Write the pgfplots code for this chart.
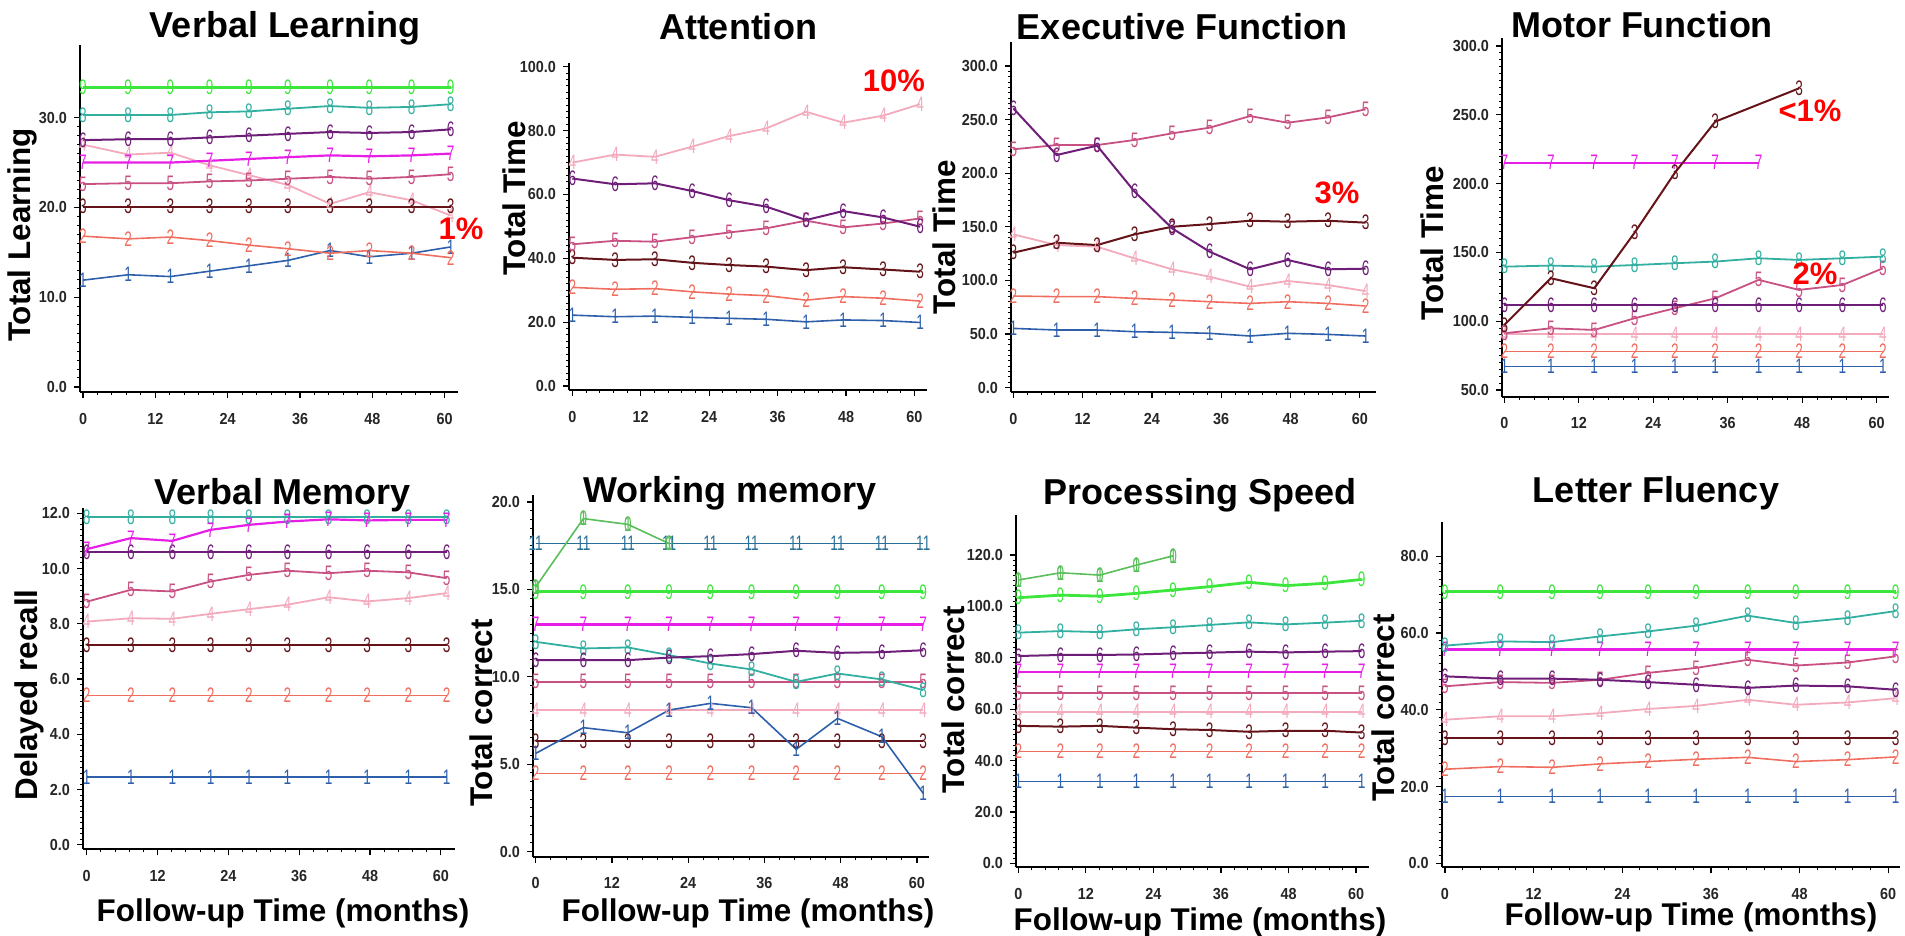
\documentclass[border=0pt]{standalone}
\usepackage{fontspec}
\setmainfont{Liberation Sans}
\newfontfamily\markfont[FakeStretch=0.65]{Liberation Sans}
\newfontfamily\tickfont[FakeStretch=0.9]{Liberation Sans}
\usepackage{pgfplots}
\usepackage{pgfplotstable}
\pgfplotsset{compat=1.18}

\definecolor{c1}{RGB}{45,95,170}
\definecolor{c2}{RGB}{240,110,95}
\definecolor{c3}{RGB}{100,20,25}
\definecolor{c4}{RGB}{242,170,188}
\definecolor{c5}{RGB}{200,80,130}
\definecolor{c6}{RGB}{110,30,120}
\definecolor{c7}{RGB}{230,30,230}
\definecolor{c8}{RGB}{50,175,160}
\definecolor{c9}{RGB}{60,230,60}
\definecolor{c10}{RGB}{90,190,90}
\definecolor{c11}{RGB}{40,110,150}
\definecolor{pctred}{RGB}{255,0,0}

\pgfplotsset{
  panel/.style={
    scale only axis, anchor=south west,
    axis lines*=left, axis line style={line width=1pt,-},
    tick align=outside, major tick length=3pt, minor tick length=1.5pt,
    every tick/.style={black, line width=0.6pt},
    every minor tick/.style={black, line width=0.5pt},
    xtick={0,12,24,36,48,60}, minor x tick num=4, minor y tick num=9,
    /pgf/number format/assume math mode=true,
    ticklabel style={font=\tickfont\bfseries\fontsize{8}{9}\selectfont, text=black!85},
    yticklabel style={/pgf/number format/fixed, /pgf/number format/fixed zerofill, /pgf/number format/precision=1},
    xticklabel style={yshift=-4pt},
    clip=false,
  },
  gl/.style n args={3}{color=#1, line width=#3, mark=text, text mark={#2}, text mark as node=true,
     text mark style={font=\markfont\fontsize{10.5}{10.5}\selectfont, text=#1, inner sep=0pt}},
  g1/.style={gl={c1}{1}{0.8pt}},
  g2/.style={gl={c2}{2}{0.8pt}},
  g3/.style={gl={c3}{3}{1pt}},
  g4/.style={gl={c4}{4}{0.9pt}},
  g5/.style={gl={c5}{5}{0.9pt}},
  g6/.style={gl={c6}{6}{1pt}},
  g7/.style={gl={c7}{7}{1.1pt}},
  g8/.style={gl={c8}{8}{0.9pt}},
  g9/.style={gl={c9}{9}{1.4pt}},
  g10/.style={gl={c10}{\makebox[0pt]{1}\makebox[0pt]{0}}{0.8pt}},
  g11/.style={gl={c11}{11}{0.8pt}},
}

% Verbal Learning
\pgfplotstableread{
t g1 g2 g3 g4 g5 g6 g7 g8 g9
0 11.9 16.8 20.1 27.0 22.6 27.5 25.0 30.3 33.4
7.5 12.5 16.5 20.1 25.9 22.7 27.6 25.0 30.3 33.4
14.5 12.3 16.7 20.1 26.1 22.7 27.6 25.0 30.3 33.4
21 12.9 16.3 20.1 24.7 22.9 27.8 25.2 30.6 33.4
27.5 13.5 15.8 20.1 23.6 23.0 28.0 25.4 30.7 33.4
34 14.1 15.4 20.1 22.5 23.2 28.2 25.6 31.0 33.4
41 15.2 14.9 20.1 20.4 23.4 28.4 25.8 31.3 33.4
47.5 14.5 15.2 20.1 21.7 23.2 28.3 25.7 31.1 33.4
54.5 14.9 14.9 20.1 20.8 23.4 28.4 25.8 31.2 33.4
61 15.6 14.4 20.1 19.1 23.7 28.7 26.0 31.5 33.4
}\VL
% Attention
\pgfplotstableread{
t g1 g2 g3 g4 g5 g6
0 22.2 30.9 40.2 70.0 44.4 65.0
7.5 21.7 30.3 39.5 72.5 45.5 63.2
14.5 21.9 30.5 39.7 71.8 45.2 63.5
21 21.5 29.5 38.6 75.0 46.6 61.1
27.5 21.2 28.8 37.9 78.3 48.1 58.2
34 20.9 28.3 37.4 80.7 49.4 56.2
41 20.1 26.9 36.3 85.9 51.8 52.0
47.5 20.7 28.0 37.2 82.5 49.7 54.8
54.5 20.5 27.5 36.5 84.7 50.9 52.8
61 19.9 26.6 35.8 88.3 52.5 49.9
}\AT
% Executive Function
\pgfplotstableread{
t g1 g2 g3 g4 g5 g6
0 55.3 85.5 125.9 143.0 222.3 260.5
7.5 53.8 84.9 135.2 133.0 226.3 217.0
14.5 53.8 84.9 133.0 131.5 226.3 225.7
21 52.2 83.3 143.0 120.6 231.0 182.8
27.5 51.6 81.8 150.1 110.4 237.2 148.6
34 50.7 80.2 152.6 103.5 242.5 126.8
41 48.2 78.6 155.7 94.2 253.3 110.4
47.5 50.7 80.2 154.8 99.5 247.1 119.1
54.5 49.7 78.6 155.7 95.7 252.1 110.4
61 48.2 76.2 153.9 90.1 259.6 111.0
}\EF
% Motor Function
\pgfplotstableread{
t g1 g2 g3 g4 g5 g6 g7 g8
0 67.0 77.9 97.2 90.5 91.2 111.8 215.2 139.6
7.5 67.0 77.9 131.2 90.5 94.8 111.8 215.2 140.4
14.5 67.0 77.9 123.9 90.5 93.6 111.8 215.2 139.6
21 67.0 77.9 164.3 90.5 102.1 111.8 215.2 140.8
27.5 67.0 77.9 207.9 90.5 109.4 111.8 215.2 142.1
34 67.0 77.9 245.0 90.5 116.6 111.8 215.2 143.3
41 67.0 77.9 nan 90.5 130.0 111.8 215.2 145.7
47.5 67.0 77.9 269.2 90.5 122.7 111.8 nan 144.5
54.5 67.0 77.9 nan 90.5 126.3 111.8 nan 145.7
61 67.0 77.9 nan 90.5 138.4 111.8 nan 146.9
}\MF
% Verbal Memory
\pgfplotstableread{
t g1 g2 g3 g4 g5 g6 g7 g8
0 2.45 5.4 7.24 8.08 8.80 10.6 10.70 11.85
7.5 2.45 5.4 7.24 8.20 9.23 10.6 11.10 11.85
14.5 2.45 5.4 7.24 8.18 9.17 10.6 11.00 11.85
21 2.45 5.4 7.24 8.36 9.53 10.6 11.40 11.85
27.5 2.45 5.4 7.24 8.53 9.77 10.6 11.58 11.85
34 2.45 5.4 7.24 8.69 9.92 10.6 11.70 11.85
41 2.45 5.4 7.24 8.96 9.83 10.6 11.78 11.85
47.5 2.45 5.4 7.24 8.81 9.92 10.6 11.74 11.85
54.5 2.45 5.4 7.24 8.93 9.86 10.6 11.76 11.85
61 2.45 5.4 7.24 9.11 9.65 10.6 11.76 11.85
}\VM
% Working memory
\pgfplotstableread{
t g1 g2 g3 g4 g5 g6 g7 g8 g9 g10 g11
0 5.62 4.48 6.32 8.1 9.71 10.95 12.99 12.00 14.86 15.14 17.62
7.5 7.09 4.48 6.32 8.1 9.71 10.95 12.99 11.62 14.86 19.05 17.62
14.5 6.80 4.48 6.32 8.1 9.71 10.95 12.99 11.68 14.86 18.72 17.62
21 8.10 4.48 6.32 8.1 9.71 11.10 12.99 11.24 14.86 17.62 17.62
27.5 8.48 4.48 6.32 8.1 9.71 11.18 12.99 10.76 14.86 nan 17.62
34 8.23 4.48 6.32 8.1 9.71 11.30 12.99 10.42 14.86 nan 17.62
41 5.85 4.48 6.32 8.1 9.71 11.49 12.99 9.71 14.86 nan 17.62
47.5 7.62 4.48 6.32 8.1 9.71 11.37 12.99 10.19 14.86 nan 17.62
54.5 6.57 4.48 6.32 8.1 9.71 11.41 12.99 9.85 14.86 nan 17.62
61 3.33 4.48 6.32 8.1 9.71 11.52 12.99 9.24 14.86 nan 17.62
}\WM
% Processing Speed
\pgfplotstableread{
t g1 g2 g3 g4 g5 g6 g7 g8 g9 g10
0 31.8 43.5 53.5 59.0 66.2 80.7 74.6 89.8 103.4 110.3
7.5 31.8 43.5 53.2 59.0 66.2 81.1 74.6 90.4 104.4 113.1
14.5 31.8 43.5 53.5 59.0 66.2 81.1 74.6 90.0 104.0 112.2
21 31.8 43.5 52.8 59.0 66.2 81.3 74.6 91.1 105.1 116.1
27.5 31.8 43.5 52.2 59.0 66.2 81.7 74.6 91.9 106.4 119.7
34 31.8 43.5 51.9 59.0 66.2 82.0 74.6 92.8 107.7 nan
41 31.8 43.5 51.2 59.0 66.2 82.4 74.6 93.8 109.4 nan
47.5 31.8 43.5 51.6 59.0 66.2 82.1 74.6 93.0 108.1 nan
54.5 31.8 43.5 51.6 59.0 66.2 82.4 74.6 93.7 109.0 nan
61 31.8 43.5 50.9 59.0 66.2 82.6 74.6 94.4 110.5 nan
}\PS
% Letter Fluency
\pgfplotstableread{
t g1 g2 g3 g4 g5 g6 g7 g8 g9
0 17.4 24.5 32.6 37.4 46.1 48.7 55.7 56.7 70.7
7.5 17.4 25.2 32.6 38.3 47.2 48.1 55.7 57.8 70.7
14.5 17.4 25.0 32.6 38.3 47.0 48.1 55.7 57.6 70.7
21 17.4 25.9 32.6 39.1 47.8 47.8 55.7 59.1 70.7
27.5 17.4 26.5 32.6 40.2 49.6 47.2 55.7 60.4 70.7
34 17.4 27.1 32.6 41.0 50.9 46.5 55.7 61.9 70.7
41 17.4 27.6 32.6 42.6 53.0 45.7 55.7 64.5 70.7
47.5 17.4 26.5 32.6 41.3 51.5 46.3 55.7 62.6 70.7
54.5 17.4 27.0 32.6 41.9 52.3 46.1 55.7 63.9 70.7
61 17.4 27.7 32.6 43.0 53.9 45.2 55.7 65.7 70.7
}\LF

\newcommand{\titlefont}{\bfseries\fontsize{18}{20}\selectfont}
\newcommand{\labfont}{\bfseries\fontsize{15.7}{18}\selectfont}
\newcommand{\pctfont}{\bfseries\fontsize{15.5}{18}\selectfont\color{pctred}}

\begin{document}
\begin{tikzpicture}
\useasboundingbox (0,0) rectangle (952.5pt,468pt);

% ---- Verbal Learning
\begin{axis}[panel, at={(40pt,272pt)}, width=189pt, height=173.5pt,
  xmin=-0.5, xmax=62.2, ymin=-0.56, ymax=38.1, ytick={0,10,20,30}]
\addplot[g4] table[x=t,y=g4]{\VL};
\addplot[g1] table[x=t,y=g1]{\VL};
\addplot[g2] table[x=t,y=g2]{\VL};
\addplot[g3] table[x=t,y=g3]{\VL};
\addplot[g5] table[x=t,y=g5]{\VL};
\addplot[g7] table[x=t,y=g7]{\VL};
\addplot[g6] table[x=t,y=g6]{\VL};
\addplot[g8] table[x=t,y=g8]{\VL};
\addplot[g9] table[x=t,y=g9]{\VL};
\end{axis}

% ---- Attention
\begin{axis}[panel, at={(284.5pt,273pt)}, width=179pt, height=163.5pt,
  xmin=-0.58, xmax=62.2, ymin=-1.25, ymax=101.2, ytick={0,20,40,60,80,100}]
\addplot[g4] table[x=t,y=g4]{\AT};
\addplot[g1] table[x=t,y=g1]{\AT};
\addplot[g2] table[x=t,y=g2]{\AT};
\addplot[g3] table[x=t,y=g3]{\AT};
\addplot[g5] table[x=t,y=g5]{\AT};
\addplot[g6] table[x=t,y=g6]{\AT};
\end{axis}

% ---- Executive Function
\begin{axis}[panel, at={(505.5pt,272pt)}, width=182.5pt, height=175pt,
  xmin=-0.4, xmax=62.8, ymin=-4, ymax=322.4, ytick={0,50,100,150,200,250,300}]
\addplot[g4] table[x=t,y=g4]{\EF};
\addplot[g1] table[x=t,y=g1]{\EF};
\addplot[g2] table[x=t,y=g2]{\EF};
\addplot[g3] table[x=t,y=g3]{\EF};
\addplot[g5] table[x=t,y=g5]{\EF};
\addplot[g6] table[x=t,y=g6]{\EF};
\end{axis}

% ---- Motor Function
\begin{axis}[panel, at={(751pt,269.65pt)}, width=193.5pt, height=179.35pt,
  xmin=-0.37, xmax=62.0, ymin=45.1, ymax=305.8, ytick={50,100,150,200,250,300}]
\addplot[g4] table[x=t,y=g4]{\MF};
\addplot[g1] table[x=t,y=g1]{\MF};
\addplot[g2] table[x=t,y=g2]{\MF};
\addplot[g5] table[x=t,y=g5]{\MF};
\addplot[g6] table[x=t,y=g6]{\MF};
\addplot[g8] table[x=t,y=g8]{\MF};
\addplot[g7] table[x=t,y=g7]{\MF};
\addplot[g3] table[x=t,y=g3]{\MF};
\end{axis}

% ---- Verbal Memory
\begin{axis}[panel, at={(41.5pt,43.35pt)}, width=186pt, height=170.65pt,
  xmin=-0.63, xmax=62.4, ymin=-0.16, ymax=12.19, ytick={0,2,4,6,8,10,12}]
\addplot[g4] table[x=t,y=g4]{\VM};
\addplot[g1] table[x=t,y=g1]{\VM};
\addplot[g2] table[x=t,y=g2]{\VM};
\addplot[g3] table[x=t,y=g3]{\VM};
\addplot[g5] table[x=t,y=g5]{\VM};
\addplot[g6] table[x=t,y=g6]{\VM};
\addplot[g8] table[x=t,y=g8]{\VM};
\addplot[g7] table[x=t,y=g7]{\VM};
\end{axis}

% ---- Working memory
\begin{axis}[panel, at={(266.5pt,39.65pt)}, width=198pt, height=180.85pt,
  xmin=-0.43, xmax=61.9, ymin=-0.29, ymax=20.4, ytick={0,5,10,15,20}]
\addplot[g4] table[x=t,y=g4]{\WM};
\addplot[g2] table[x=t,y=g2]{\WM};
\addplot[g3] table[x=t,y=g3]{\WM};
\addplot[g1] table[x=t,y=g1]{\WM};
\addplot[g5] table[x=t,y=g5]{\WM};
\addplot[g8] table[x=t,y=g8]{\WM};
\addplot[g6] table[x=t,y=g6]{\WM};
\addplot[g7] table[x=t,y=g7]{\WM};
\addplot[g9] table[x=t,y=g9]{\WM};
\addplot[g11] table[x=t,y=g11]{\WM};
\addplot[g10] table[x=t,y=g10]{\WM};
\end{axis}

% ---- Processing Speed
\begin{axis}[panel, at={(508pt,34.35pt)}, width=176.5pt, height=176.15pt,
  xmin=-0.41, xmax=62.3, ymin=-1.56, ymax=135.6, ytick={0,20,40,60,80,100,120}]
\addplot[g4] table[x=t,y=g4]{\PS};
\addplot[g1] table[x=t,y=g1]{\PS};
\addplot[g2] table[x=t,y=g2]{\PS};
\addplot[g3] table[x=t,y=g3]{\PS};
\addplot[g5] table[x=t,y=g5]{\PS};
\addplot[g7] table[x=t,y=g7]{\PS};
\addplot[g6] table[x=t,y=g6]{\PS};
\addplot[g8] table[x=t,y=g8]{\PS};
\addplot[g9] table[x=t,y=g9]{\PS};
\addplot[g10] table[x=t,y=g10]{\PS};
\end{axis}

% ---- Letter Fluency
\begin{axis}[panel, at={(720.85pt,34.35pt)}, width=229.15pt, height=172.65pt,
  xmin=-0.44, xmax=61.6, ymin=-1.04, ymax=88.9, ytick={0,20,40,60,80}]
\addplot[g4] table[x=t,y=g4]{\LF};
\addplot[g1] table[x=t,y=g1]{\LF};
\addplot[g2] table[x=t,y=g2]{\LF};
\addplot[g3] table[x=t,y=g3]{\LF};
\addplot[g5] table[x=t,y=g5]{\LF};
\addplot[g6] table[x=t,y=g6]{\LF};
\addplot[g7] table[x=t,y=g7]{\LF};
\addplot[g8] table[x=t,y=g8]{\LF};
\addplot[g9] table[x=t,y=g9]{\LF};
\end{axis}

% ---- titles
\node[font=\titlefont, anchor=base] at (142.5pt,449pt) {Verbal Learning};
\node[font=\titlefont, anchor=base] at (369pt,448pt) {Attention};
\node[font=\titlefont, anchor=base] at (591pt,448pt) {Executive Function};
\node[font=\titlefont, anchor=base] at (821pt,449pt) {Motor Function};
\node[font=\titlefont, anchor=base] at (141.5pt,215.5pt) {Verbal Memory};
\node[font=\titlefont, anchor=base] at (365pt,216.5pt) {Working memory};
\node[font=\titlefont, anchor=base] at (600pt,215.5pt) {Processing Speed};
\node[font=\titlefont, anchor=base] at (828pt,216.5pt) {Letter Fluency};

% ---- y labels
\node[font=\labfont, rotate=90] at (11pt,350.5pt) {Total Learning};
\node[font=\labfont, rotate=90] at (257pt,369pt) {Total Time};
\node[font=\labfont, rotate=90] at (472pt,349.5pt) {Total Time};
\node[font=\labfont, rotate=90] at (716pt,346.5pt) {Total Time};
\node[font=\labfont, rotate=90] at (14.5pt,120.5pt) {Delayed recall};
\node[font=\labfont, rotate=90] at (240.5pt,111.5pt) {Total correct};
\node[font=\labfont, rotate=90] at (476.5pt,118pt) {Total correct};
\node[font=\labfont, rotate=90] at (691.5pt,114pt) {Total correct};

% ---- x labels
\node[font=\labfont] at (141.5pt,11.5pt) {Follow-up Time (months)};
\node[font=\labfont] at (374pt,11.5pt) {Follow-up Time (months)};
\node[font=\labfont] at (600pt,7pt) {Follow-up Time (months)};
\node[font=\labfont] at (845.5pt,9.5pt) {Follow-up Time (months)};

% ---- percentages
\node[font=\pctfont] at (230.5pt,353.5pt) {1\%};
\node[font=\pctfont] at (447pt,427.5pt) {10\%};
\node[font=\pctfont] at (668.5pt,371.5pt) {3\%};
\node[font=\pctfont] at (905pt,412.5pt) {<1\%};
\node[font=\pctfont] at (907.5pt,331pt) {2\%};
\end{tikzpicture}
\end{document}
